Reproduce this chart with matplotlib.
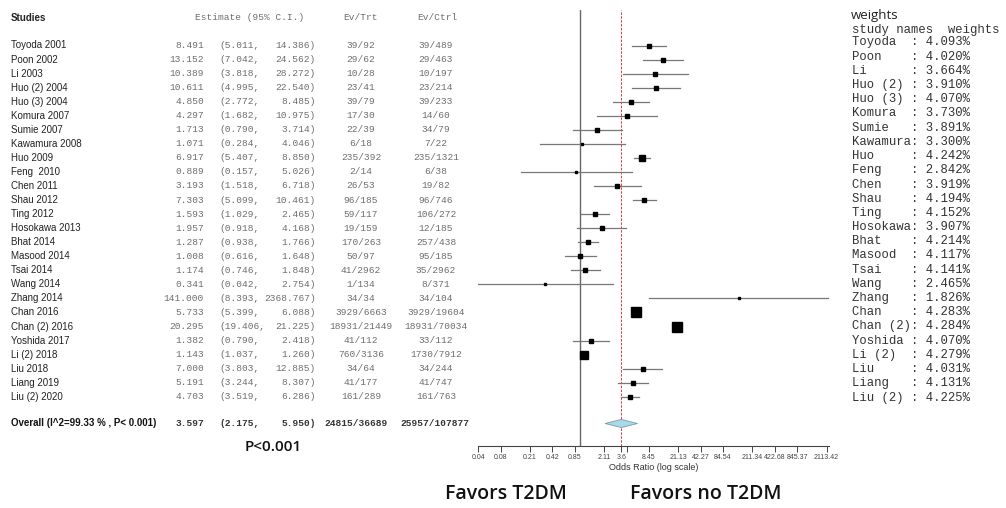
import numpy as np
import matplotlib

matplotlib.use("Agg")
import matplotlib.pyplot as plt
from matplotlib.patches import Polygon
from matplotlib.ticker import NullLocator
from matplotlib.transforms import blended_transform_factory


STUDIES = [
    "Toyoda 2001", "Poon 2002", "Li 2003", "Huo (2) 2004", "Huo (3) 2004",
    "Komura 2007", "Sumie 2007", "Kawamura 2008", "Huo 2009", "Feng  2010",
    "Chen 2011", "Shau 2012", "Ting 2012", "Hosokawa 2013", "Bhat 2014",
    "Masood 2014", "Tsai 2014", "Wang 2014", "Zhang 2014", "Chan 2016",
    "Chan (2) 2016", "Yoshida 2017", "Li (2) 2018", "Liu 2018", "Liang 2019",
    "Liu (2) 2020",
]
ESTIMATE = [8.491, 13.152, 10.389, 10.611, 4.850, 4.297, 1.713, 1.071, 6.917, 0.889,
            3.193, 7.303, 1.593, 1.957, 1.287, 1.008, 1.174, 0.341, 141.000, 5.733,
            20.295, 1.382, 1.143, 7.000, 5.191, 4.703]
LOWER = [5.011, 7.042, 3.818, 4.995, 2.772, 1.682, 0.790, 0.284, 5.407, 0.157,
         1.518, 5.099, 1.029, 0.918, 0.938, 0.616, 0.746, 0.042, 8.393, 5.399,
         19.406, 0.790, 1.037, 3.803, 3.244, 3.519]
UPPER = [14.386, 24.562, 28.272, 22.540, 8.485, 10.975, 3.714, 4.046, 8.850, 5.026,
         6.718, 10.461, 2.465, 4.168, 1.766, 1.648, 1.848, 2.754, 2368.767, 6.088,
         21.225, 2.418, 1.260, 12.885, 8.307, 6.286]
EV_TRT = ["39/92", "29/62", "10/28", "23/41", "39/79", "17/30", "22/39", "6/18",
          "235/392", "2/14", "26/53", "96/185", "59/117", "19/159", "170/263", "50/97",
          "41/2962", "1/134", "34/34", "3929/6663", "18931/21449", "41/112", "760/3136",
          "34/64", "41/177", "161/289"]
EV_CTRL = ["39/489", "29/463", "10/197", "23/214", "39/233", "14/60", "34/79", "7/22",
           "235/1321", "6/38", "19/82", "96/746", "106/272", "12/185", "257/438", "95/185",
           "35/2962", "8/371", "34/104", "3929/19604", "18931/70034", "33/112", "1730/7912",
           "34/244", "41/747", "161/763"]

OVERALL_LABEL = "Overall (I^2=99.33 % , P< 0.001)"
OVERALL = (3.597, 2.175, 5.950)
OVERALL_EV = ("24815/36689", "25957/107877")

WEIGHT_NAMES = ["Toyoda", "Poon", "Li", "Huo (2)", "Huo (3)", "Komura", "Sumie", "Kawamura",
                "Huo", "Feng", "Chen", "Shau", "Ting", "Hosokawa", "Bhat", "Masood", "Tsai",
                "Wang", "Zhang", "Chan", "Chan (2)", "Yoshida", "Li (2)", "Liu", "Liang",
                "Liu (2)"]
WEIGHTS = [4.093, 4.020, 3.664, 3.910, 4.070, 3.730, 3.891, 3.300, 4.242, 2.842, 3.919,
           4.194, 4.152, 3.907, 4.214, 4.117, 4.141, 2.465, 1.826, 4.283, 4.284, 4.070,
           4.279, 4.031, 4.131, 4.225]

TICK_VALUES = [0.04226, 0.08453, 0.2113, 0.4227, 0.8454, 2.1134, 3.597, 4.2268, 8.4537,
               21.134, 42.268, 84.537, 211.34, 422.68, 845.37, 2113.42]
TICK_LABELS = ["0.04", "0.08", "0.21", "0.42", "0.85", "2.11", "3.6", "", "8.45",
               "21.13", "42.27", "84.54", "211.34", "422.68", "845.37", "2113.42"]

W, H = 1006, 508
ROW0, STEP = 45.5, 14.05          # pixel y of first study row, row spacing
AX_LEFT, AX_RIGHT, AX_TOP, AX_BOTTOM = 478.3, 829.0, 10.0, 445.7


def fx(px):
    return px / W


def fy(py):
    return 1 - py / H


def row_of(py):
    return (py - ROW0) / STEP


plt.rcParams["font.family"] = ["Liberation Sans", "DejaVu Sans"]
fig = plt.figure(figsize=(W / 100, H / 100), dpi=100)
ax = fig.add_axes([fx(AX_LEFT), fy(AX_BOTTOM), (AX_RIGHT - AX_LEFT) / W, (AX_BOTTOM - AX_TOP) / H])
ax.set_xscale("log")
decades = (AX_RIGHT - AX_LEFT) / 74.1
ax.set_xlim(TICK_VALUES[0], TICK_VALUES[0] * 10 ** decades)
ax.set_ylim(row_of(AX_BOTTOM), row_of(AX_TOP))

n = len(STUDIES)
rows = np.arange(n)
est = np.array(ESTIMATE)
lo = np.array(LOWER)
hi = np.array(UPPER)
prec = 3.92 / (np.log(hi) - np.log(lo))
side_px = 2.4 * prec ** 0.38

# reference lines
ax.axvline(1.0, color="#666666", lw=1.0, zorder=1)
ax.axvline(OVERALL[0], color="#ee3333", lw=0.7, ls=(0, (2.5, 1.5)), zorder=1)

for i in range(n):
    ax.plot([lo[i], hi[i]], [rows[i], rows[i]], color="#777777", lw=0.9, zorder=2)
    ax.plot(est[i], rows[i], marker="s", color="black", ms=side_px[i] * 0.72, zorder=3)

oy = row_of(423.5)
dh = 0.29
diamond = Polygon([(OVERALL[1], oy), (OVERALL[0], oy - dh), (OVERALL[2], oy), (OVERALL[0], oy + dh)],
                  closed=True, facecolor="#a8d8ea", edgecolor="#7a9aa8", lw=0.6, zorder=3)
ax.add_patch(diamond)

for side in ["top", "right", "left"]:
    ax.spines[side].set_visible(False)
ax.spines["bottom"].set_color("#444444")
ax.spines["bottom"].set_linewidth(0.8)
ax.set_yticks([])
ax.set_xticks(TICK_VALUES)
ax.set_xticklabels(TICK_LABELS)
ax.xaxis.set_minor_locator(NullLocator())
ax.tick_params(axis="x", length=4, width=0.7, color="#444444", labelsize=5, labelcolor="#444444", pad=2)
ax.set_xlabel("Odds Ratio (log scale)", fontsize=6.5, color="#333333", labelpad=1.5)

# table on the left, rows in the axes' data coordinates
tr = blended_transform_factory(fig.transFigure, ax.transData)
mono = ["Liberation Mono", "DejaVu Sans Mono"]
num_color = "#6e6e6e"
head_y = row_of(18)

ax.text(fx(11), head_y, "Studies", transform=tr, fontsize=7, fontweight="bold", va="center", color="#222222")
ax.text(fx(250), head_y, "Estimate (95% C.I.)", transform=tr, family=mono, fontsize=6.8,
        ha="center", va="center", color=num_color)
ax.text(fx(361), head_y, "Ev/Trt", transform=tr, family=mono, fontsize=6.8, ha="center", va="center", color=num_color)
ax.text(fx(437), head_y, "Ev/Ctrl", transform=tr, family=mono, fontsize=6.8, ha="center", va="center", color=num_color)

for i in range(n):
    y = rows[i]
    ax.text(fx(11), y, STUDIES[i], transform=tr, fontsize=7, va="center", color="#222222")
    ax.text(fx(204), y, f"{ESTIMATE[i]:.3f}", transform=tr, family=mono, fontsize=6.8,
            ha="right", va="center", color=num_color)
    ax.text(fx(219), y, f"({LOWER[i]:.3f},", transform=tr, family=mono, fontsize=6.8,
            ha="left", va="center", color=num_color)
    ax.text(fx(316), y, f"{UPPER[i]:.3f})", transform=tr, family=mono, fontsize=6.8,
            ha="right", va="center", color=num_color)
    ax.text(fx(361), y, EV_TRT[i], transform=tr, family=mono, fontsize=6.8,
            ha="center", va="center", color=num_color)
    ax.text(fx(436), y, EV_CTRL[i], transform=tr, family=mono, fontsize=6.8,
            ha="center", va="center", color=num_color)

ax.text(fx(11), oy, OVERALL_LABEL, transform=tr, fontsize=7, fontweight="bold", va="center", color="#111111")
ax.text(fx(204), oy, f"{OVERALL[0]:.3f}", transform=tr, family=mono, fontsize=6.8, fontweight="bold",
        ha="right", va="center", color="#333333")
ax.text(fx(219), oy, f"({OVERALL[1]:.3f},", transform=tr, family=mono, fontsize=6.8, fontweight="bold",
        ha="left", va="center", color="#333333")
ax.text(fx(316), oy, f"{OVERALL[2]:.3f})", transform=tr, family=mono, fontsize=6.8, fontweight="bold",
        ha="right", va="center", color="#333333")
ax.text(fx(356), oy, OVERALL_EV[0], transform=tr, family=mono, fontsize=6.8, fontweight="bold",
        ha="center", va="center", color="#333333")
ax.text(fx(435), oy, OVERALL_EV[1], transform=tr, family=mono, fontsize=6.8, fontweight="bold",
        ha="center", va="center", color="#333333")

# weights panel
fig.text(fx(851), fy(16), "weights", fontsize=9.5, family=["Open Sans", "DejaVu Sans"],
         va="center", color="#222222")
fig.text(fx(852), fy(29.5), "study names  weights", family=mono, fontsize=8.8, va="center", color="#333333")
for i, (name, w) in enumerate(zip(WEIGHT_NAMES, WEIGHTS)):
    fig.text(fx(852), fy(42.5 + i * 14.2), f"{name:<8}: {w:.3f}%", family=mono, fontsize=8.8,
             va="center", color="#333333")

# annotations
sans = ["Open Sans", "DejaVu Sans"]
fig.text(fx(273), fy(447), "P<0.001", family=sans, fontsize=11, fontweight="semibold",
         ha="center", va="center", color="#111111")
fig.text(fx(506), fy(494), "Favors T2DM", family=sans, fontsize=14, fontweight="semibold",
         ha="center", va="center", color="#111111")
fig.text(fx(706), fy(494), "Favors no T2DM", family=sans, fontsize=14, fontweight="semibold",
         ha="center", va="center", color="#111111")

fig.savefig("out.png", dpi=100, facecolor="white")
